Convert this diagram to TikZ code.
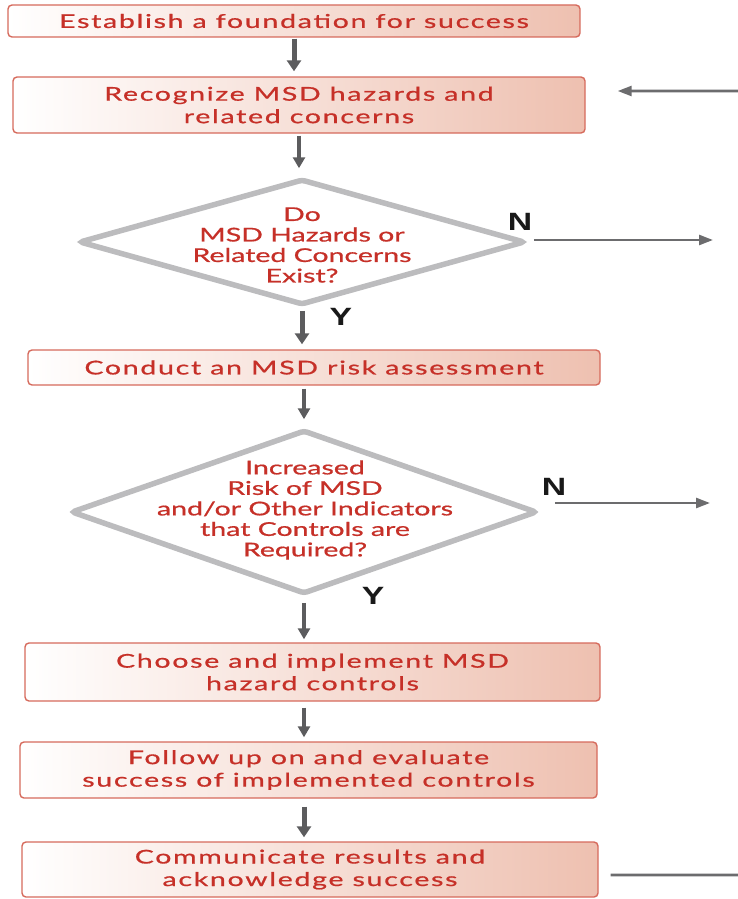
\documentclass[tikz,border=0pt]{standalone}
\usepackage{fontspec}
\setmainfont{Lato}
\newfontfamily\boxfont[FakeStretch=1.5,LetterSpace=9,FakeBold=0.8]{Lato}
\newfontfamily\askfont[FakeStretch=1.5,FakeBold=0.8]{Lato}
\newfontfamily\ynfont[FakeStretch=1.35]{Liberation Sans}
\usetikzlibrary{arrows.meta,shapes.geometric}
\definecolor{txtred}{RGB}{198,48,40}
\definecolor{edgered}{RGB}{214,106,92}
\definecolor{fillpink}{RGB}{238,192,176}
\definecolor{diagray}{RGB}{188,188,190}
\definecolor{arrgray}{RGB}{92,92,94}
\begin{document}
\begin{tikzpicture}[x=1pt,y=-1pt,
  stepbox/.style={draw=edgered, line width=1.4pt, rounded corners=4pt,
    left color=white, right color=fillpink, text=txtred,
    font=\boxfont\fontsize{19}{22.5}\selectfont, align=center, inner sep=0pt},
  askbox/.style={diamond, draw=diagray, line width=5.5pt, rounded corners=3pt,
    inner sep=0pt, fill=white},
  asktext/.style={text=txtred, font=\askfont\fontsize{19}{20.5}\selectfont,
    align=center, inner sep=0pt},
  yn/.style={font=\ynfont\bfseries\fontsize{25}{25}\selectfont, text=black!90, inner sep=0pt},
  thickarr/.style={draw=arrgray, line width=5pt, -{Triangle[width=14pt,length=11pt]}},
  thinarr/.style={draw=arrgray, line width=3.2pt, -{Triangle[width=12pt,length=11pt]}},
  sidearr/.style={draw=arrgray!90, line width=2.6pt, -{Triangle[width=10pt,length=14pt]}},
  loopline/.style={draw=arrgray!90, line width=2.6pt, rounded corners=11pt,
    -{Triangle[width=10pt,length=14pt]}}
]
\useasboundingbox (0,0) rectangle (738,899);

% process steps
\node[stepbox, minimum width=572pt, minimum height=32pt] (b1) at (294,21)
  {Establish a foundation for success};
\node[stepbox, minimum width=572pt, minimum height=56pt] (b2) at (299,105)
  {Recognize MSD hazards and\\related concerns};
\node[stepbox, minimum width=572pt, minimum height=35pt] (b3) at (314,367.5)
  {Conduct an MSD risk assessment};
\node[stepbox, minimum width=575pt, minimum height=58pt] (b4) at (312.5,672)
  {Choose and implement MSD\\hazard controls};
\node[stepbox, minimum width=577pt, minimum height=56pt] (b5) at (308.5,770)
  {Follow up on and evaluate\\success of implemented controls};
\node[stepbox, minimum width=576pt, minimum height=55pt] (b6) at (310,869.5)
  {Communicate results and\\acknowledge success};

% decisions
\node[askbox, minimum width=446pt, minimum height=126pt] (d1) at (302,242) {};
\node[asktext] (d1t) at (302,245)
  {Do\\MSD Hazards or\\Related Concerns\\Exist?};
\node[askbox, minimum width=466pt, minimum height=164pt] (d2) at (304,512) {};
\node[asktext] (d2t) at (305,510)
  {Increased\\Risk of MSD\\and/or Other Indicators\\that Controls are\\Required?};

% branch labels
\node[yn] (n1) at (520,222) {N};
\node[yn] (y1) at (341,317) {Y};
\node[yn] (n2) at (554,487) {N};
\node[yn] (y2) at (373,596) {Y};

% main flow
\draw[thickarr, shorten <=1pt, shorten >=5pt] (b1.south) -- (b1.south |- b2.north);
\draw[thinarr, shorten <=2pt, shorten >=8pt] (b2.south) -- (b2.south |- d1.north);
\draw[thickarr, shorten <=3pt, shorten >=5pt] (d1.south) -- (d1.south |- b3.north);
\draw[thinarr, shorten <=3pt, shorten >=8pt] (d2.north |- b3.south) -- (d2.north);
\draw[thinarr, shorten <=6pt, shorten >=3pt] (d2.south) -- (d2.south |- b4.north);
\draw[thinarr, shorten <=6pt, shorten >=4pt] (b4.south -| d2.south) -- (b5.north -| d2.south);
\draw[thickarr, shorten <=8pt, shorten >=4pt] (b5.south -| d2.south) -- (b6.north -| d2.south);

% "no" exits
\coordinate (n1end) at (713,240);
\coordinate (n2end) at (710,503);
\draw[sidearr] ([shift={(6,-2)}]d1.east) -- (n1end);
\draw[sidearr] ([shift={(15,-9)}]d2.east) -- (n2end);

% return loop
\coordinate (loopR) at (740,0);
\draw[loopline] ([shift={(12,5.5)}]b6.east) -- ([shift={(12,5.5)}]b6.east -| loopR)
  -- ([shift={(32,-14)}]b2.east -| loopR) -- ([shift={(32,-14)}]b2.east);
\end{tikzpicture}
\end{document}
